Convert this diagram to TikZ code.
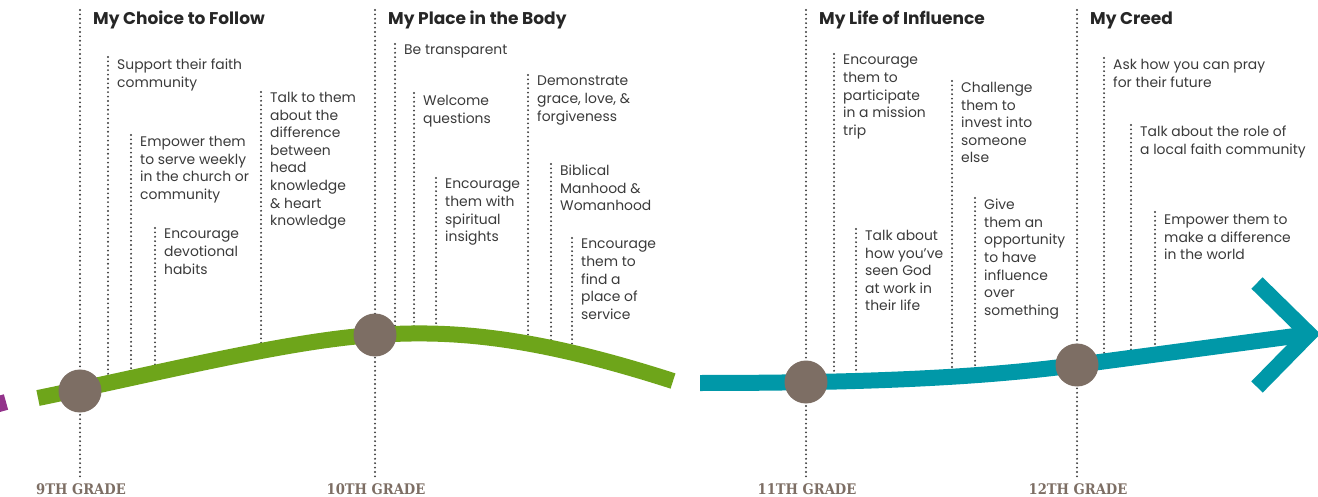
\documentclass[tikz,border=0pt]{standalone}
\usepackage{fontspec}
\setmainfont{Poppins}
\newfontfamily\gradefont{DejaVu Serif Condensed}
\definecolor{leaf}{HTML}{6EA51A}
\definecolor{sea}{HTML}{0098A8}
\definecolor{plum}{HTML}{93338B}
\definecolor{stone}{HTML}{7D6E64}
\definecolor{ink}{HTML}{3A3A3A}
\definecolor{dotc}{HTML}{3C3C3C}
\newcommand\tipitem[6]{%
  \coordinate (#1t) at (#2,#3);
  \coordinate (#1b) at (#2,420);
  \draw[dotline] (#1t) -- (#1b);
  \node[itemtext] (#1) at (#2+9,#4-10) {#5};
}
\begin{document}
\begin{tikzpicture}[x=1pt,y=-1pt,
  dotline/.style={dotc, line width=2.1pt, line cap=round, dash pattern=on 0pt off 4.4pt},
  itemtext/.style={anchor=north west, align=left, inner sep=0pt, text=ink, font=\fontsize{13.9pt}{17.6pt}\selectfont},
  titletext/.style={anchor=base west, inner sep=0pt, text=black!85, font=\fontsize{17pt}{20pt}\selectfont\bfseries},
  gradetext/.style={anchor=base, inner sep=0pt, text=stone, font=\gradefont\bfseries\fontsize{14.6pt}{16pt}\selectfont},
  gradedot/.style={circle, fill=stone, minimum size=43pt, inner sep=0pt},
  band/.style={line width=16pt}]
\useasboundingbox (0,0) rectangle (1318,497);
\def\greenpath{(38,398) .. controls (150,375) and (290,340) .. (375,335) .. controls (450,330) and (530,335) .. (673,381)}
\def\teailpath{(700,383) .. controls (900,383) and (1000,375) .. (1077,365) -- (1310,334)}
% sub item lines and texts
\tipitem{sa}{108}{57}{69}{Support their faith\\community}{}
\tipitem{sb}{131}{135}{146}{Empower them\\to serve weekly\\in the church or\\community}{}
\tipitem{sc}{155}{228}{239}{Encourage\\devotional\\habits}{}
\tipitem{sd}{261}{92}{102}{Talk to them\\about the\\difference\\between\\head\\knowledge\\\& heart\\knowledge}{}
\tipitem{pa}{395}{44}{55}{Be transparent}{}
\tipitem{pb}{414}{93}{105}{Welcome\\questions}{}
\tipitem{pc}{436}{178}{189}{Encourage\\them with\\spiritual\\insights}{}
\tipitem{pd}{528}{75}{86}{Demonstrate\\grace, love, \&\\forgiveness}{}
\tipitem{pe}{551}{164}{175}{Biblical\\Manhood \&\\Womanhood}{}
\tipitem{pf}{572}{238}{249}{Encourage\\them to\\find a\\place of\\service}{}
\tipitem{la}{834}{54}{65}{Encourage\\them to\\participate\\in a mission\\trip}{}
\tipitem{lb}{856}{229}{240}{Talk about\\how you’ve\\seen God\\at work in\\their life}{}
\tipitem{lc}{952}{81}{92}{Challenge\\them to\\invest into\\someone\\else}{}
\tipitem{ld}{975}{198}{209}{Give\\them an\\opportunity\\to have\\influence\\over\\something}{}
\tipitem{ca}{1104}{58}{69}{Ask how you can pray\\for their future}{}
\tipitem{cb}{1131}{125}{136}{Talk about the role of\\a local faith community}{}
\tipitem{cc}{1155}{212}{224}{Empower them to\\make a difference\\in the world}{}
% hide the parts of the lines below the path
\fill[white] (0,497) -- \greenpath -- (700,383) .. controls (900,383) and (1000,375) .. (1077,365) -- (1310,334) -- (1318,334) -- (1318,497) -- cycle;
% bands
\draw[band, plum] (-30,412) -- (6,402);
\draw[band, leaf] \greenpath;
\draw[band, sea] \teailpath;
\draw[band, sea, miter limit=10] (1257,283) -- (1309,334) -- (1257,387);
% grade lines, dots, titles, labels
\foreach \n/\x/\ttl/\grd in {a/80/My Choice to Follow/9TH GRADE, b/375/My Place in the Body/10TH GRADE, c/806/My Life of Influence/11TH GRADE, d/1077/My Creed/12TH GRADE}{
  \coordinate (top\n) at (\x,10);
  \coordinate (bot\n) at (\x,478);
  \draw[dotline] (top\n) -- (bot\n);
  \node[titletext] (title\n) at (\x+13,25) {\ttl};
  \node[gradetext] (grade\n) at (\x+1,494) {\grd};
}
\node[gradedot] (g9) at (80,391) {};
\node[gradedot] (g10) at (375,335) {};
\node[gradedot] (g11) at (806,382) {};
\node[gradedot] (g12) at (1077,365) {};
\end{tikzpicture}
\end{document}
